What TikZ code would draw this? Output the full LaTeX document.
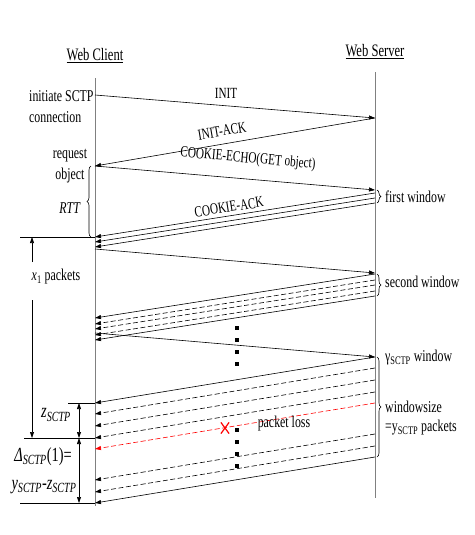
\documentclass[tikz,border=0pt]{standalone}
\usepackage{fontspec}
\setmainfont{Liberation Serif}[FakeStretch=0.72]
\usetikzlibrary{arrows.meta,decorations.pathreplacing,shapes.misc}

\tikzset{
  msg/.style={line width=0.6pt, -{Triangle[length=6pt,width=4pt]}},
  msgd/.style={msg, dash pattern=on 5pt off 2.5pt},
  loss/.style={msgd, red},
  life/.style={gray, line width=0.6pt},
  lbl/.style={inner sep=1pt, font=\fontsize{15.5}{16}\selectfont},
  note/.style={inner sep=1pt, font=\fontsize{16.5}{21}\selectfont},
  big/.style={inner sep=1pt, font=\fontsize{20}{22}\selectfont},
  brc/.style={line width=0.6pt, decorate, decoration={brace, amplitude=4pt}},
  dim/.style={line width=0.6pt, {Triangle[length=6pt,width=4pt]}-{Triangle[length=6pt,width=4pt]}},
  dots/.style={line width=4pt, dash pattern=on 4pt off 8pt}
}

\begin{document}
\begin{tikzpicture}[x=1pt, y=-1pt]
  \useasboundingbox (0,0) rectangle (474,535);

  % titles and lifelines
  \node[note, font=\fontsize{17.5}{18}\selectfont] (client) at (95,56) {\underline{Web Client}};
  \node[note, font=\fontsize{17.5}{18}\selectfont] (server) at (375,52) {\underline{Web Server}};
  \coordinate (cTop) at (95,78);
  \coordinate (cBot) at (95,506);
  \coordinate (sTop) at (375,72);
  \coordinate (sBot) at (375,498);
  \draw[life] (cTop) -- (cBot);
  \draw[life] (sTop) -- (sBot);

  % handshake
  \coordinate (cInit) at (95,95);
  \coordinate (sInit) at (375,118);
  \coordinate (cAck) at (95,166);
  \coordinate (sEcho) at (375,190);
  \draw[msg] (cInit) -- (sInit);
  \draw[msg] (sInit) -- (cAck);
  \draw[msg] (cAck) -- (sEcho);
  \node[lbl] (initLbl) at (226,93) {INIT};
  \node[lbl, rotate=9.7] (ackLbl) at (222,131) {INIT-ACK};
  \node[lbl, rotate=-4.9] (echoLbl) at (248,159) {COOKIE-ECHO(GET object)};
  \node[lbl, rotate=8.9] (cackLbl) at (229,207) {COOKIE-ACK};

  % first window
  \foreach \y [count=\i] in {193,198,203} {
    \coordinate (sF\i) at (375,\y);
    \coordinate (cF\i) at (95,\y+44);
    \draw[msg] (sF\i) -- (cF\i);
  }
  \coordinate (cReq) at (95,249);
  \coordinate (sReq) at (375,273);
  \draw[msg] (cReq) -- (sReq);

  % second window
  \foreach \y/\st [count=\i] in {274/msg,280/msgd,285/msgd,291/msgd,296/msg} {
    \coordinate (sS\i) at (375,\y);
    \coordinate (cS\i) at (95,\y+44);
    \draw[\st] (sS\i) -- (cS\i);
  }
  \coordinate (cReqB) at (95,333);
  \coordinate (sReqB) at (375,357);
  \draw[msg] (cReqB) -- (sReqB);

  % gamma window
  \foreach \y/\st [count=\i] in {357/msg,368/msgd,380/msgd,392/msgd,403/loss,434/msgd,446/msgd,457/msg} {
    \coordinate (sG\i) at (375,\y);
    \coordinate (cG\i) at (95,\y+46);
    \draw[\st] (sG\i) -- (cG\i);
  }
  \node[cross out, draw=red, line width=1.2pt, minimum width=7pt, minimum height=10pt, inner sep=0pt] (lossX) at (225,428) {};
  \node[note] (lossLbl) at (284,424) {packet loss};

  \draw[dots] (237,326) -- (237,370);
  \draw[dots] (237,428) -- (237,470);

  % left notes
  \node[note, align=left, anchor=west] (initNote) at (28,107) {initiate SCTP\\connection};
  \node[note, align=center] (reqNote) at (70,166) {request\\object};
  \draw[brc] ([xshift=-4pt]cF1) -- ([xshift=-4pt]cAck);
  \node[note] (rttLbl) at (70,208) {\textit{RTT}};

  \draw[line width=0.6pt] (cF1) -- ++(-75,0);
  \draw[line width=0.6pt] (cG1) -- ++(-27,0);
  \draw[line width=0.6pt] (cG4) -- ++(-71,0);
  \draw[line width=0.6pt] (cG8) -- ++(-75,0);

  \coordinate (xTop) at (32,237);
  \coordinate (xBot) at (32,438);
  \node[note] (xLbl) at (56,277) {\textit{x}\textsubscript{1} packets};
  \draw[line width=0.6pt, -{Triangle[length=6pt,width=4pt]}] (32,262) -- (xTop);
  \draw[line width=0.6pt, -{Triangle[length=6pt,width=4pt]}] (32,300) -- (xBot);

  \coordinate (zTop) at (79,403);
  \coordinate (zBot) at (79,438);
  \coordinate (dBot) at (79,503);
  \draw[dim] (zTop) -- (zBot);
  \draw[dim] (zBot) -- (dBot);
  \node[big] (zLbl) at (56,415) {\textit{z}\textsubscript{\textit{SCTP}}};
  \node[big] (dLbl) at (43,457) {\textit{Δ}\textsubscript{\textit{SCTP}}(1)=};
  \node[big] (yzLbl) at (44,487) {\textit{y}\textsubscript{\textit{SCTP}}-\textit{z}\textsubscript{\textit{SCTP}}};

  % right notes
  \draw[brc] ([xshift=2pt]sEcho) -- ([xshift=2pt]sF3);
  \node[note, anchor=west] (fwLbl) at (384,197) {first window};
  \draw[brc] ([xshift=2pt]sS1) -- ([xshift=2pt]sS5);
  \node[note, anchor=west] (swLbl) at (384,282) {second window};
  \draw[brc] ([xshift=2pt]sG1) -- ([xshift=2pt]sG8);
  \node[note, anchor=west] (gwLbl) at (384,358) {γ\textsubscript{SCTP} window};
  \node[note, anchor=west, align=left, font=\fontsize{16.5}{19}\selectfont] (wsLbl) at (384,418) {windowsize\\=y\textsubscript{SCTP} packets};
\end{tikzpicture}
\end{document}
